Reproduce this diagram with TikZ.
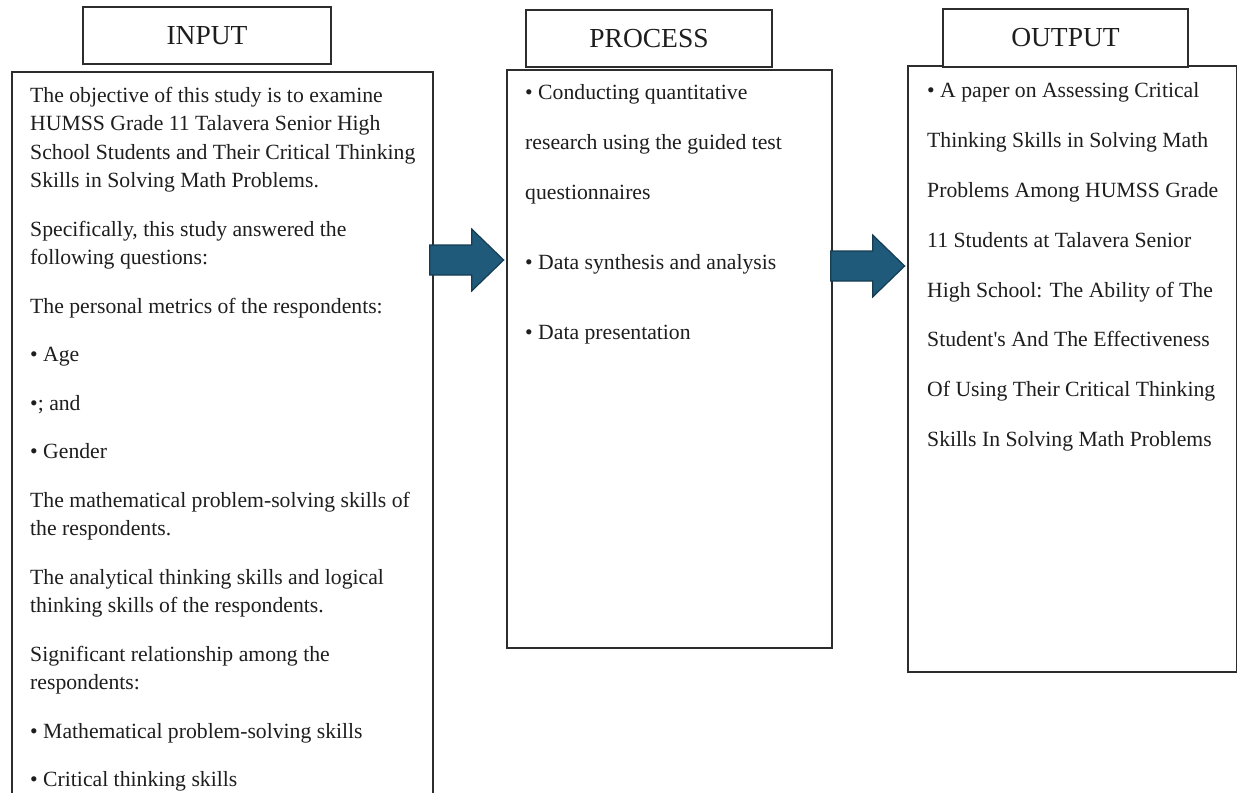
\documentclass[tikz,border=0pt]{standalone}
\usepackage{fontspec}
\setmainfont{Liberation Serif}
\usetikzlibrary{calc}
\definecolor{arrowfill}{RGB}{31,90,122}
\definecolor{arrowline}{RGB}{22,60,82}
\definecolor{inkline}{RGB}{45,45,45}
\definecolor{inktext}{RGB}{30,30,30}
\begin{document}
\begin{tikzpicture}[x=1pt,y=-1pt,
  frame/.style={draw=inkline, line width=1.3pt, rectangle, inner sep=0pt},
  hdr/.style={frame, fill=white, text=inktext, font=\fontsize{27.5}{33}\selectfont},
  body/.style={anchor=base west, inner sep=0pt, text=inktext, font=\fontsize{21.7}{26}\selectfont},
  pics/blockarrow/.style={code={
    \draw[fill=arrowfill, draw=arrowline, line width=1.2pt, line join=miter]
      (0,-15) -- (42,-15) -- (42,-31) -- (74,0) -- (42,31) -- (42,15) -- (0,15) -- cycle;}}
]
\clip (0,0) rectangle (1238,792);
\fill[white] (0,0) rectangle (1238,792);

% main column frames
\node[frame, minimum width=421pt, minimum height=728pt] (inbox) at (222.5,436) {};
\node[frame, minimum width=325pt, minimum height=578pt] (procbox) at (669.5,359) {};
\node[frame, minimum width=328.5pt, minimum height=606pt] (outbox) at (1072.25,369) {};

% column headers
\node[hdr, minimum width=248pt, minimum height=57pt] (inhdr) at (207,35.5) {INPUT};
\node[hdr, minimum width=246pt, minimum height=57pt] (prochdr) at (649,38.5) {PROCESS};
\node[hdr, minimum width=245pt, minimum height=58pt] (outhdr) at (1065.5,38) {OUTPUT};

% input text, one node per printed line
\foreach \yb/\txt [count=\k] in {
  102/{The objective of this study is to examine},
  130.5/{HUMSS Grade 11 Talavera Senior High},
  159/{School Students and Their Critical Thinking},
  187.5/{Skills in Solving Math Problems.},
  236/{Specifically, this study answered the},
  264.5/{following questions:},
  313/{The personal metrics of the respondents:},
  361.5/{• Age},
  410/{•; and},
  458.5/{• Gender},
  507/{The mathematical problem-solving skills of},
  535.5/{the respondents.},
  584/{The analytical thinking skills and logical},
  612.5/{thinking skills of the respondents.},
  661/{Significant relationship among the},
  689.5/{respondents:},
  738/{• Mathematical problem-solving skills},
  786.5/{• Critical thinking skills}}
  \node[body] (in\k) at (30,\yb) {\txt};

% process text
\foreach \yb/\txt [count=\k] in {
  99/{• Conducting quantitative},
  149/{research using the guided test},
  199/{questionnaires},
  269/{• Data synthesis and analysis},
  339/{• Data presentation}}
  \node[body] (proc\k) at (525,\yb) {\txt};

% output text
\foreach \yb/\txt [count=\k] in {
  97/{• A paper on Assessing Critical},
  147/{Thinking Skills in Solving Math},
  197/{Problems Among HUMSS Grade},
  247/{11 Students at Talavera Senior},
  297/{High School: The Ability of The},
  346.5/{Student\textquotesingle s And The Effectiveness},
  396.5/{Of Using Their Critical Thinking},
  446/{Skills In Solving Math Problems}}
  \node[body] (out\k) at (927,\yb) {\txt};

% flow arrows between the columns
\pic at ($(inbox.east |- 0,260)+(-4,0)$) {blockarrow};
\pic at ($(procbox.east |- 0,266)+(-2,0)$) {blockarrow};
\end{tikzpicture}
\end{document}
